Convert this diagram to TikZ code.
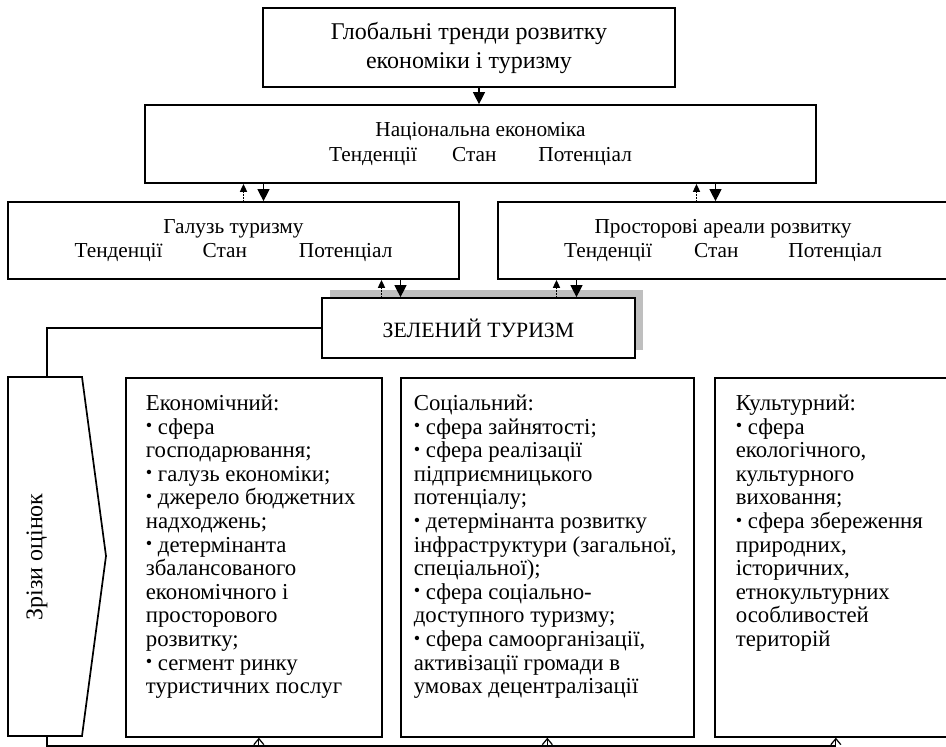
\documentclass[tikz,border=0pt]{standalone}
\usepackage{fontspec}
\setmainfont{Liberation Serif}
\usetikzlibrary{positioning, arrows.meta, shadows}
\newcommand{\bul}{\raisebox{0.1em}{\scalebox{0.8}{\textbullet}}\ }
\tikzset{
    box/.style = {
        rectangle,
        draw,
        line width=1.7pt,
        align=center,
        inner sep=0pt
    },
    topbox/.style   = {box, font=\fontsize{24}{29}\selectfont},
    levelbox/.style = {box, font=\fontsize{21.3}{24.5}\selectfont},
    greenbox/.style = {box, fill=white, font=\fontsize{21.8}{24}\selectfont,
        general shadow={fill=gray!50, shadow xshift=8pt, shadow yshift=8pt}},
    listbox/.style  = {rectangle, draw, line width=1.7pt, anchor=north west,
        inner xsep=20pt, inner ysep=17pt, font=\fontsize{22.8}{23.6}\selectfont},
    line/.style = {line width=1.2pt},
    arrow/.style = {-{Triangle[length=12pt, width=12pt]}, line width=1.2pt},
    backarrow/.style = {-{Triangle[length=8pt, width=7pt]}, line width=1.6pt, densely dotted},
    uparrow/.style = {-{Straight Barb[length=6pt, width=10pt]}, line width=1.2pt}
}

\begin{document}
\begin{tikzpicture}[x=1pt, y=-1pt]
\useasboundingbox (0,0) rectangle (946,747);
\clip (0,0) rectangle (946,747);

% Рівні
\node[topbox, minimum width=412pt, minimum height=79pt] (global) at (469,47.5)
    {Глобальні тренди розвитку\\економіки і туризму};
\node[levelbox, minimum width=671pt, minimum height=78pt] (natecon) at (480.5,144)
    {Національна економіка\\Тенденції\hspace{35pt}Стан\hspace{42pt}Потенціал};
\node[levelbox, minimum width=451pt, minimum height=77pt] (galuz) at (233.5,240.5)
    {Галузь туризму\\Тенденції\hspace{40pt}Стан\hspace{52pt}Потенціал};
\node[levelbox, minimum width=450pt, minimum height=77pt] (areas) at (723,240.5)
    {Просторові ареали розвитку\\Тенденції\hspace{42pt}Стан\hspace{50pt}Потенціал};
\node[greenbox, minimum width=313pt, minimum height=60pt] (green) at (478.5,328)
    {ЗЕЛЕНИЙ ТУРИЗМ};

\draw[arrow] ([xshift=10pt]global.south) -- ([xshift=10pt]global.south |- natecon.north);

\draw[arrow] ([xshift=-217pt]natecon.south) -- ([xshift=-217pt]natecon.south |- galuz.north);
\draw[backarrow] ([xshift=-237pt]natecon.south |- galuz.north) -- ([xshift=-237pt]natecon.south);
\draw[arrow] ([xshift=235pt]natecon.south) -- ([xshift=235pt]natecon.south |- areas.north);
\draw[backarrow] ([xshift=216pt]natecon.south |- areas.north) -- ([xshift=216pt]natecon.south);

\draw[arrow] ([xshift=-78pt]green.north |- galuz.south) -- ([xshift=-78pt]green.north);
\draw[backarrow] ([xshift=-97pt]green.north) -- ([xshift=-97pt]green.north |- galuz.south);
\draw[arrow] ([xshift=98pt]green.north |- areas.south) -- ([xshift=98pt]green.north);
\draw[backarrow] ([xshift=78pt]green.north) -- ([xshift=78pt]green.north |- areas.south);

% Зрізи оцінок
\draw[line width=1.7pt] (8,377) -- (82,377) -- (106,556) -- (82,736) -- (8,736) -- cycle;
\node[rotate=90, font=\fontsize{24}{28}\selectfont] (slices) at (37,557) {Зрізи оцінок};
\coordinate (slicetop) at (47,377);
\coordinate (slicebot) at (47,736);
\coordinate (bus) at (47,746);

\draw[line] (green.west) -| (slicetop);

% Аспекти
\node[listbox] (econ) at (125,377) {\parbox[t][325pt][t]{216pt}{\raggedright
    Економічний:\\
    \bul сфера\\
    господарювання;\\
    \bul галузь економіки;\\
    \bul джерело бюджетних\\
    надходжень;\\
    \bul детермінанта\\
    збалансованого\\
    економічного і\\
    просторового\\
    розвитку;\\
    \bul сегмент ринку\\
    туристичних послуг}};
\node[listbox, inner xsep=13pt] (social) at (400,377) {\parbox[t][325pt][t]{267pt}{\raggedright
    Соціальний:\\
    \bul сфера зайнятості;\\
    \bul сфера реалізації\\
    підприємницького\\
    потенціалу;\\
    \bul детермінанта розвитку\\
    інфраструктури (загальної,\\
    спеціальної);\\
    \bul сфера соціально-\\
    доступного туризму;\\
    \bul сфера самоорганізації,\\
    активізації громади в\\
    умовах децентралізації}};
\node[listbox, inner xsep=21pt] (cultur) at (714,377) {\parbox[t][325pt][t]{200pt}{\raggedright
    Культурний:\\
    \bul сфера\\
    екологічного,\\
    культурного\\
    виховання;\\
    \bul сфера збереження\\
    природних,\\
    історичних,\\
    етнокультурних\\
    особливостей\\
    територій}};

\draw[line] (slicebot) |- (cultur.south |- bus);
\draw[uparrow] ([xshift=5pt]econ.south |- bus) -- ([xshift=5pt]econ.south);
\draw[uparrow] (social.south |- bus) -- (social.south);
\draw[uparrow] (cultur.south |- bus) -- (cultur.south);

\end{tikzpicture}
\end{document}
